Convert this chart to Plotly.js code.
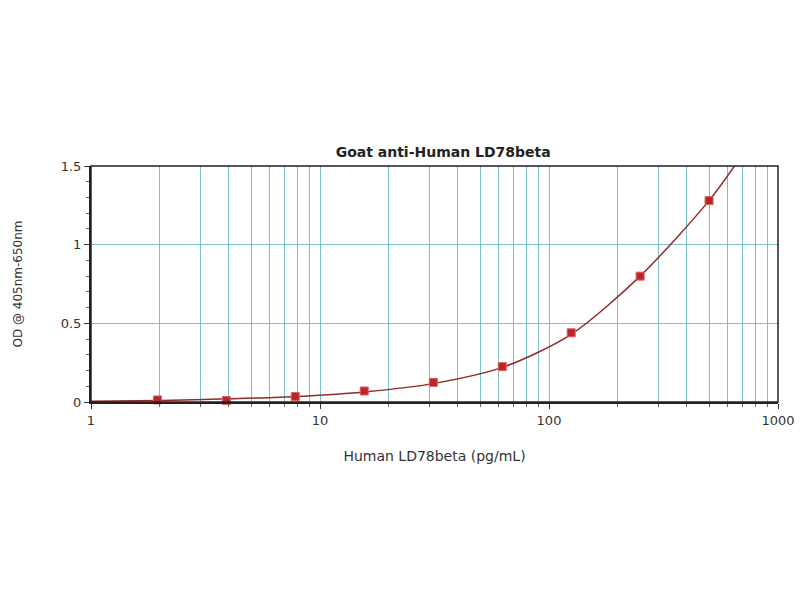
<!DOCTYPE html>
<html>
<head>
<meta charset="utf-8">
<script src="https://cdn.plot.ly/plotly-3.0.1.min.js"></script>
<style>html,body{margin:0;padding:0;background:#fff;}#chart{width:800px;height:600px;}</style>
</head>
<body>
<div id="chart"></div>
<script>
// Standard points (concentration in pg/mL, OD)
const concentration = [1.95, 3.9, 7.8, 15.6, 31.25, 62.5, 125, 250, 500];
const od = [0.013, 0.010, 0.035, 0.070, 0.125, 0.225, 0.440, 0.800, 1.280];

// Fitted curve
const curveX = [1, 2, 4, 8, 16, 32, 64, 125, 250, 500, 660];
const curveY = [0.004, 0.010, 0.020, 0.035, 0.065, 0.120, 0.225, 0.430, 0.800, 1.280, 1.52];

const xTickVals = [1, 10, 100, 1000];
const xTickText = ['1', '10', '100', '1000'];
const xMinorVals = [2,3,4,5,6,7,8,9,20,30,40,50,60,70,80,90,200,300,400,500,600,700,800,900];
const yTickVals = [0, 0.5, 1, 1.5];
const yTickText = ['0', '0.5', '1', '1.5'];

const gridColor = '#7cc0cc';

const traces = [
  {
    x: curveX, y: curveY, mode: 'lines', type: 'scatter',
    line: {color: '#8e2b2b', width: 1.5, shape: 'spline', smoothing: 0.8},
    hoverinfo: 'skip', showlegend: false
  },
  {
    x: concentration, y: od, mode: 'markers', type: 'scatter',
    marker: {symbol: 'square', size: 8, color: '#b8262b', line: {color: '#e06060', width: 1}},
    showlegend: false, cliponaxis: false
  }
];

const layout = {
  width: 800, height: 600,
  margin: {l: 91, r: 22, t: 166, b: 198},
  paper_bgcolor: '#ffffff', plot_bgcolor: '#ffffff',
  font: {family: 'DejaVu Sans, Arial, sans-serif', size: 12, color: '#333'},
  title: {
    text: '<b>Goat anti-Human LD78beta</b>',
    font: {size: 14, color: '#222'},
    x: 0.554, xanchor: 'center', y: 0.747, yanchor: 'middle'
  },
  xaxis: {
    type: 'log', range: [0, 3],
    tickmode: 'array', tickvals: xTickVals, ticktext: xTickText,
    ticks: 'outside', ticklen: 5, tickcolor: '#333', tickwidth: 1,
    showgrid: true, gridcolor: gridColor, gridwidth: 1,
    minor: {tickmode: 'array', tickvals: xMinorVals, ticks: 'outside', ticklen: 3, tickcolor: '#666', showgrid: true, gridcolor: gridColor, gridwidth: 1},
    showline: true, linecolor: '#222', linewidth: 2,
    zeroline: false,
    tickfont: {size: 13, color: '#333'},
    title: {text: 'Human LD78beta (pg/mL)', font: {size: 14, color: '#333'}, standoff: 25}
  },
  yaxis: {
    range: [0, 1.5],
    tickmode: 'array', tickvals: yTickVals, ticktext: yTickText,
    ticks: 'outside', ticklen: 5, tickcolor: '#333', tickwidth: 1,
    showgrid: true, gridcolor: gridColor, gridwidth: 1,
    minor: {dtick: 0.1, ticks: 'outside', ticklen: 3, tickcolor: '#666', showgrid: false},
    showline: true, linecolor: '#222', linewidth: 2,
    zeroline: false,
    tickfont: {size: 13, color: '#333'},
    title: {text: 'OD @ 405nm-650nm', font: {size: 12, color: '#333'}, standoff: 36}
  },
  shapes: [
    {type: 'rect', xref: 'paper', yref: 'paper', x0: 0, x1: 1, y0: 0, y1: 1, line: {color: '#222', width: 1.5}, layer: 'above'}
  ]
};

Plotly.newPlot('chart', traces, layout, {displayModeBar: false, staticPlot: true});
</script>
</body>
</html>
